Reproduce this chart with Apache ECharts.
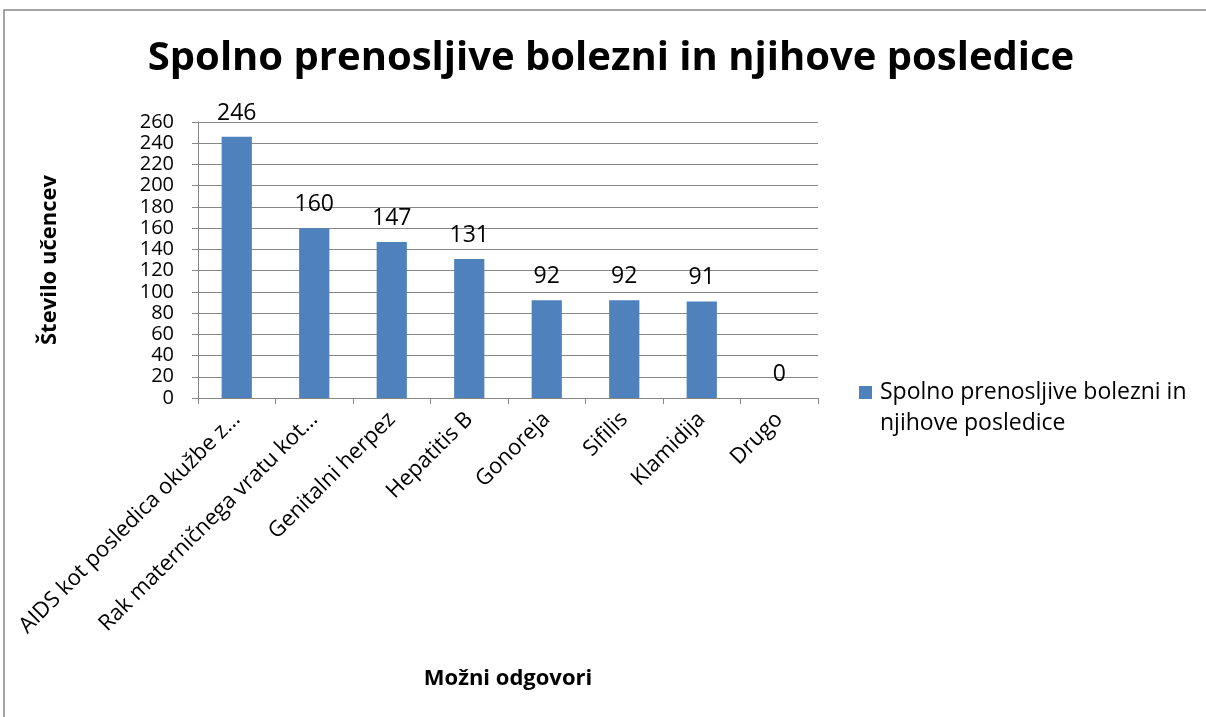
<!DOCTYPE html>
<html><head><meta charset="utf-8">
<script src="https://cdn.jsdelivr.net/npm/echarts@6/dist/echarts.min.js"></script>
<style>html,body{margin:0;padding:0;background:#fff}#c{width:1206px;height:717px}</style>
</head><body><div id="c"></div>
<script>
var titleText = 'Spolno prenosljive bolezni in njihove posledice';
var seriesName = 'Spolno prenosljive bolezni in njihove posledice';
var categories = ['AIDS kot posledica okužbe z…', 'Rak materničnega vratu kot…', 'Genitalni herpez', 'Hepatitis B', 'Gonoreja', 'Sifilis', 'Klamidija', 'Drugo'];
var values = [246, 160, 147, 131, 92, 92, 91, 0];
var yName = 'Število učencev';
var xName = 'Možni odgovori';

var font = 'Open Sans';
var chart = echarts.init(document.getElementById('c'));
chart.setOption({
  animation: false,
  textStyle: {fontFamily: font},
  graphic: [
    {type: 'rect', shape: {x: 4, y: 10, width: 1210, height: 720}, style: {fill: 'none', stroke: '#868686', lineWidth: 1.5}, silent: true},
    {type: 'text', x: 611, y: 39, style: {text: titleText, font: 'bold 40px "Open Sans"', fill: '#000', textAlign: 'center'}},
    {type: 'text', left: 880, top: 377, style: {text: 'Spolno prenosljive bolezni in\nnjihove posledice', font: '23px "Open Sans"', lineHeight: 31, fill: '#000'}},
    {type: 'rect', shape: {x: 859, y: 386, width: 13, height: 13}, style: {fill: '#4f81bd'}}
  ],
  grid: {left: 198, right: 388, top: 122, bottom: 319, containLabel: false},
  xAxis: {
    type: 'category', data: categories,
    axisLine: {lineStyle: {color: '#868686', width: 1}},
    axisTick: {show: true, length: 6, lineStyle: {color: '#868686'}},
    axisLabel: {rotate: 45, fontSize: 22, color: '#000', margin: 18, interval: 0, fontFamily: font},
    name: xName, nameLocation: 'middle', nameGap: 270,
    nameTextStyle: {fontSize: 22, fontWeight: 'bold', color: '#000', fontFamily: font}
  },
  yAxis: {
    type: 'value', min: 0, max: 260, interval: 20,
    axisLine: {show: true, lineStyle: {color: '#868686', width: 1}},
    axisTick: {show: true, length: 6, lineStyle: {color: '#868686'}},
    splitLine: {lineStyle: {color: '#868686', width: 1}},
    axisLabel: {fontSize: 20, color: '#000', margin: 24, fontFamily: font},
    name: yName, nameLocation: 'middle', nameGap: 137, nameRotate: 90,
    nameTextStyle: {fontSize: 22, fontWeight: 'bold', color: '#000', fontFamily: font}
  },
  series: [{
    name: seriesName, type: 'bar', data: values, barWidth: '39%',
    itemStyle: {color: '#4f81bd'},
    label: {show: true, position: 'top', fontSize: 23, color: '#000', distance: 12, fontFamily: font}
  }]
});
</script></body></html>
